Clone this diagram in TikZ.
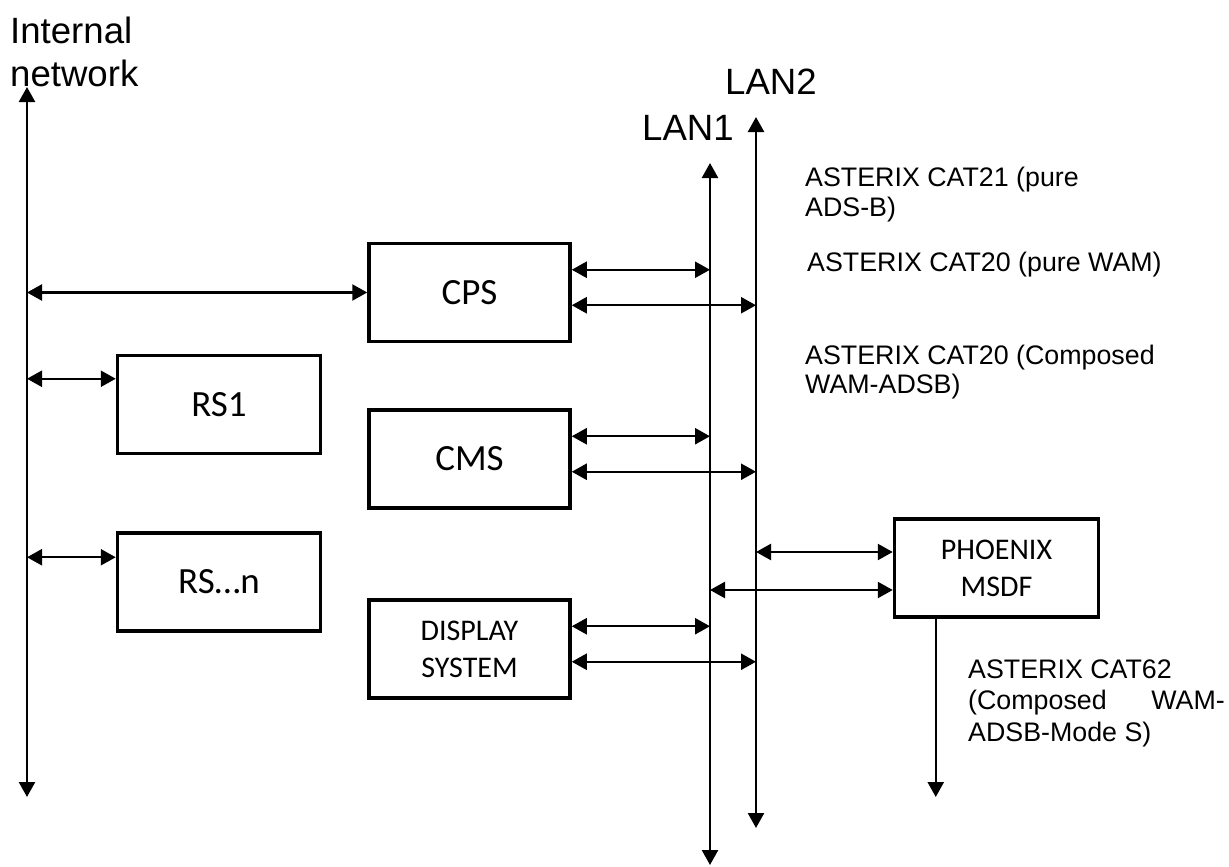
\documentclass[tikz,border=0pt]{standalone}
\usepackage{fontspec}
\setmainfont{Liberation Sans}
\newfontfamily\boxfont{Carlito}
\usetikzlibrary{arrows.meta,calc}
\tikzset{
  conn/.style={line width=2.4pt, {Triangle[length=15pt,width=16pt]}-{Triangle[length=15pt,width=16pt]}},
  oneway/.style={line width=2.4pt, -{Triangle[length=15pt,width=16pt]}},
  sysbox/.style={draw, line width=3.5pt, minimum width=201pt, minimum height=98pt, inner sep=0pt, align=center},
  bigtxt/.style={font=\boxfont\fontsize{37}{42}\selectfont},
  smalltxt/.style={font=\boxfont\fontsize{30}{37}\selectfont},
  lbl/.style={inner sep=0pt, anchor=base west, font=\fontsize{36.6}{42}\selectfont},
  note/.style={inner sep=0pt, anchor=base west, font=\fontsize{26.8}{30}\selectfont},
}
\begin{document}
\begin{tikzpicture}[x=1pt, y=-1pt]
\useasboundingbox (0,0) rectangle (1229,867);

% bus lines
\coordinate (inT) at (27,87);
\coordinate (inB) at (27,797);
\coordinate (l1T) at (710,163);
\coordinate (l1B) at (710,865);
\coordinate (l2T) at (756,117);
\coordinate (l2B) at (756,828);

% boxes
\node[sysbox, bigtxt] (cps) at (469.5,292.5) {CPS};
\node[sysbox, bigtxt] (cms) at (469.5,459) {CMS};
\node[sysbox, smalltxt] (disp) at (469.5,649) {DISPLAY\\SYSTEM};
\node[sysbox, bigtxt, minimum width=203pt] (rs1) at (219,404.5) {RS1};
\node[sysbox, bigtxt, minimum width=203pt] (rsn) at (219,582) {RS…n};
\node[sysbox, smalltxt, minimum width=204pt] (phx) at (996.5,568) {PHOENIX\\MSDF};

% labels
\node[lbl] (int1) at (10,44) {Internal};
\node[lbl] (int2) at (10,86) {network};
\node[lbl] (lan2) at (725,94) {LAN2};
\node[lbl] (lan1) at (642,140) {LAN1};

\node[note] (c21a) at (805,186) {ASTERIX CAT21 (pure};
\node[note] (c21b) at (805,216) {ADS-B)};
\node[note] (c20w) at (807,271) {ASTERIX CAT20 (pure WAM)};
\node[note] (c20a) at (805,364) {ASTERIX CAT20 (Composed};
\node[note] (c20b) at (805,393) {WAM-ADSB)};
\node[note] (c62a) at (968,678) {ASTERIX CAT62};
\node[note] (c62b) at (968,709) {(Composed};
\node[note, anchor=base east] (c62c) at (1225,709) {WAM-};
\node[note] (c62d) at (968,741) {ADSB-Mode S)};

% vertical buses
\draw[conn] (inB) -- (inT);
\draw[conn] (l1B) -- (l1T);
\draw[conn] (l2B) -- (l2T);

% internal network links
\draw[conn] (cps.west -| inT) -- (cps.west);
\coordinate (rs1a) at ($(rs1.north west)+(0,25)$);
\coordinate (rsna) at ($(rsn.north west)+(0,26)$);
\draw[conn] (rs1a -| inT) -- (rs1a);
\draw[conn] (rsna -| inT) -- (rsna);

% LAN links
\foreach \b in {cps,cms,disp}{
  \coordinate (\b a) at ($(\b.north east)+(0,28)$);
  \coordinate (\b b) at ($(\b.north east)+(0,63.5)$);
  \draw[conn] (\b a) -- (\b a -| l1T);
  \draw[conn] (\b b) -- (\b b -| l2T);
}
\coordinate (phxa) at ($(phx.west)+(0,-16)$);
\coordinate (phxb) at ($(phx.west)+(0,22)$);
\draw[conn] (phxa -| l2T) -- (phxa);
\draw[conn] (phxb -| l1T) -- (phxb);

% output
\coordinate (phxo) at ($(phx.south west)+(43,0)$);
\coordinate (outE) at (phxo |- inB);
\draw[oneway] (phxo) -- (outE);
\end{tikzpicture}
\end{document}
